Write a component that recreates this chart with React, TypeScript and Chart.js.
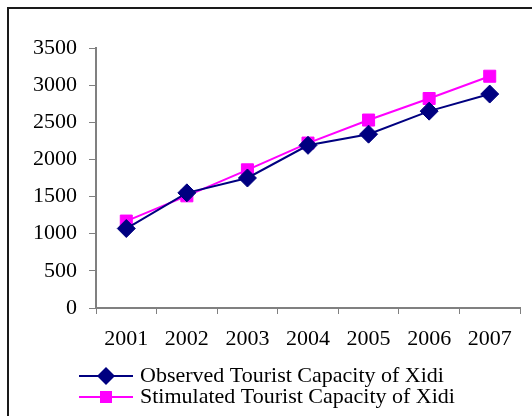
import React, { useEffect, useRef } from 'react';
import { Chart, registerables } from 'chart.js';

Chart.register(...registerables);

const years = ['2001', '2002', '2003', '2004', '2005', '2006', '2007'];
const observed = [1070, 1550, 1750, 2190, 2340, 2650, 2880];
const stimulated = [1170, 1510, 1860, 2220, 2530, 2820, 3120];
const seriesLabels = ['Observed Tourist Capacity of Xidi', 'Stimulated Tourist Capacity of Xidi'];
const seriesColors = ['#000080', '#FF00FF'];
const seriesMarkers = ['rectRot', 'rect'];
const seriesRadius = [9, 8.5];
const yMin = 0;
const yMax = 3500;
const yStep = 500;

const FONT = '"Liberation Serif", "Times New Roman", serif';

function drawMarker(ctx: CanvasRenderingContext2D, style: string, x: number, y: number, r: number, color: string) {
  ctx.fillStyle = color;
  ctx.beginPath();
  if (style === 'rectRot') {
    ctx.moveTo(x - r, y);
    ctx.lineTo(x, y - r);
    ctx.lineTo(x + r, y);
    ctx.lineTo(x, y + r);
    ctx.closePath();
  } else {
    const s = r * Math.SQRT1_2;
    ctx.rect(x - s, y - s, 2 * s, 2 * s);
  }
  ctx.fill();
}

const framePlugin = {
  id: 'frame',
  beforeDraw(chart: any) {
    const { ctx, width, height } = chart;
    ctx.save();
    ctx.fillStyle = '#fff';
    ctx.fillRect(0, 0, width, height);
    ctx.strokeStyle = '#1a1a1a';
    ctx.lineWidth = 2;
    ctx.beginPath();
    ctx.moveTo(8, height + 2);
    ctx.lineTo(8, 8);
    ctx.lineTo(width + 2, 8);
    ctx.stroke();
    ctx.restore();
  },
};

const legendPlugin = {
  id: 'stackedLegend',
  afterDraw(chart: any) {
    const { ctx } = chart;
    ctx.save();
    chart.data.datasets.forEach((ds: any, i: number) => {
      const y = 376 + i * 21;
      ctx.strokeStyle = ds.borderColor;
      ctx.lineWidth = 2;
      ctx.beginPath();
      ctx.moveTo(79, y);
      ctx.lineTo(133, y);
      ctx.stroke();
      drawMarker(ctx, ds.pointStyle, 106, y, ds.pointRadius, ds.pointBackgroundColor);
      ctx.fillStyle = '#000';
      ctx.font = `22px ${FONT}`;
      ctx.textBaseline = 'alphabetic';
      ctx.textAlign = 'left';
      ctx.fillText(ds.label, 140, y + 6);
    });
    ctx.restore();
  },
};

export default function App() {
  const ref = useRef<HTMLCanvasElement | null>(null);

  useEffect(() => {
    if (!ref.current) return;
    const seriesData = [observed, stimulated];
    const chart = new Chart(ref.current, {
      type: 'line',
      data: {
        labels: years,
        datasets: seriesData.map((d, i) => ({
          label: seriesLabels[i],
          data: d,
          borderColor: seriesColors[i],
          backgroundColor: seriesColors[i],
          pointBackgroundColor: seriesColors[i],
          pointBorderColor: seriesColors[i],
          pointStyle: seriesMarkers[i],
          pointRadius: seriesRadius[i],
          pointBorderWidth: 1,
          borderWidth: 2,
          tension: 0,
          fill: false,
        })),
      },
      options: {
        responsive: false,
        animation: false,
        layout: { padding: { left: 0, right: 12, top: 48, bottom: 58 } },
        plugins: { legend: { display: false }, tooltip: { enabled: false } },
        scales: {
          x: {
            offset: true,
            grid: { offset: true, drawOnChartArea: false, drawTicks: true, tickLength: 6, color: '#808080' },
            border: { display: true, color: '#808080', width: 2 },
            ticks: { color: '#000', font: { family: FONT, size: 22 }, padding: 12, maxRotation: 0, autoSkip: false },
            afterFit: (s: any) => { s.height = 50; },
          },
          y: {
            min: yMin,
            max: yMax,
            grid: { drawOnChartArea: false, drawTicks: true, tickLength: 7, color: '#808080' },
            border: { display: true, color: '#808080', width: 2 },
            ticks: {
              stepSize: yStep,
              color: '#000',
              font: { family: FONT, size: 22 },
              padding: 12,
              callback: (v: any) => String(v),
            },
            afterFit: (s: any) => { s.width = 96; },
          },
        },
      },
      plugins: [framePlugin, legendPlugin],
    });
    return () => chart.destroy();
  }, []);

  return (
    <canvas
      ref={ref}
      width={532}
      height={416}
      style={{ position: 'absolute', left: 0, top: 0, width: 532, height: 416, display: 'block' }}
    />
  );
}
